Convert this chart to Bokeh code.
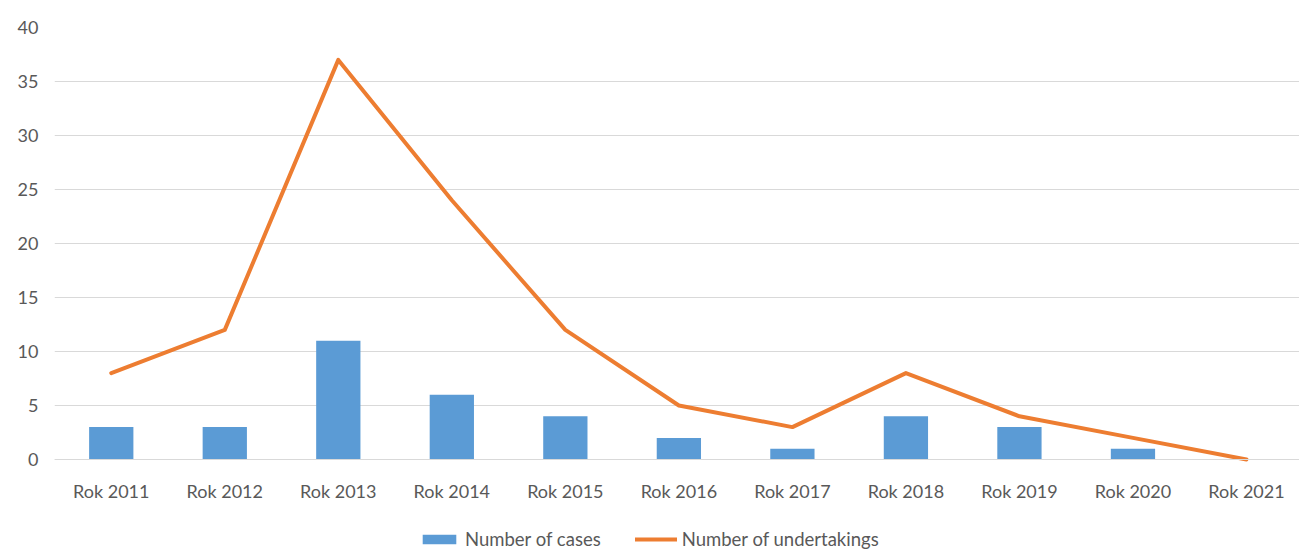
from bokeh.plotting import figure
from bokeh.models import ColumnDataSource, Legend, LegendItem, Range1d, FixedTicker
from bokeh.embed import file_html
from bokeh.resources import INLINE

categories = ["Rok 2011", "Rok 2012", "Rok 2013", "Rok 2014", "Rok 2015", "Rok 2016",
              "Rok 2017", "Rok 2018", "Rok 2019", "Rok 2020", "Rok 2021"]
cases = [3, 3, 11, 6, 4, 2, 1, 4, 3, 1, 0]
undertakings = [8, 12, 37, 24, 12, 5, 3, 8, 4, 2, 0]
y_ticks = [0, 5, 10, 15, 20, 25, 30, 35, 40]

FONT = "Lato"
GRAY = "#595959"

xs = list(range(len(categories)))
src = ColumnDataSource(dict(x=xs, cases=cases, und=undertakings))

p = figure(frame_width=1245, frame_height=523, output_backend="svg", toolbar_location=None,
           x_range=Range1d(-0.5, 10.467), y_range=Range1d(-91 / 10.8, 40),
           min_border_left=54, min_border_right=0, min_border_top=27, min_border_bottom=0)
p.outline_line_color = None
p.background_fill_color = "white"
p.border_fill_color = "white"

bars = p.vbar(x="x", top="cases", width=0.39, source=src, fill_color="#5B9BD5", line_color=None)
line = p.line(x="x", y="und", source=src, line_color="#ED7D31", line_width=4, line_join="round", line_cap="round")

p.xgrid.grid_line_color = None
p.ygrid.grid_line_color = "#D9D9D9"
p.ygrid.grid_line_width = 1

p.yaxis.ticker = FixedTicker(ticks=y_ticks)
p.yaxis.axis_line_color = None
p.yaxis.major_tick_line_color = None
p.yaxis.minor_tick_line_color = None
p.yaxis.major_tick_out = 0
p.yaxis.minor_tick_out = 0
p.yaxis.major_label_text_font = FONT
p.yaxis.major_label_text_font_size = "18px"
p.yaxis.major_label_text_color = GRAY
p.yaxis.major_label_standoff = 16

p.xaxis.ticker = FixedTicker(ticks=xs)
p.xaxis.fixed_location = 0
p.xaxis.major_label_overrides = {i: c for i, c in enumerate(categories)}
p.xaxis.axis_line_color = "#D9D9D9"
p.xaxis.major_tick_line_color = None
p.xaxis.minor_tick_line_color = None
p.xaxis.major_tick_out = 0
p.xaxis.minor_tick_out = 0
p.xaxis.major_label_text_font = FONT
p.xaxis.major_label_text_font_size = "18px"
p.xaxis.major_label_text_color = GRAY
p.xaxis.major_label_standoff = 20

legend = Legend(items=[LegendItem(label="Number of cases", renderers=[bars]),
                       LegendItem(label="Number of undertakings", renderers=[line])],
                orientation="horizontal", location=(364, 0),
                label_text_font=FONT, label_text_font_size="18.5px", label_text_color=GRAY,
                glyph_width=42, glyph_height=12, label_standoff=5, spacing=34,
                border_line_color=None, background_fill_alpha=0, padding=0, margin=0)
p.add_layout(legend, "center")

open("out.html", "w").write(file_html(p, INLINE))
